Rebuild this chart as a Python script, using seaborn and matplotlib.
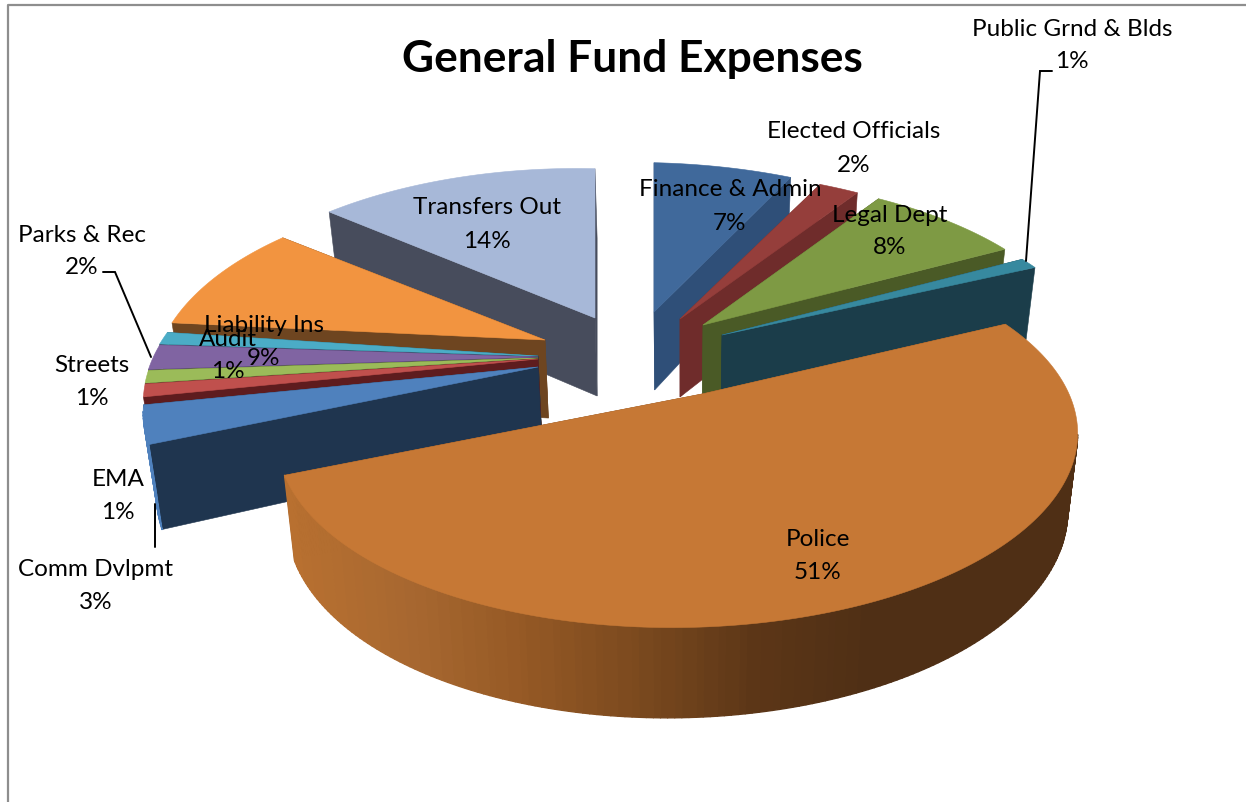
import numpy as np
import matplotlib
matplotlib.use("Agg")
import matplotlib.pyplot as plt
from matplotlib.collections import PolyCollection
from matplotlib.patches import Polygon
import seaborn as sns

# Budget shares, clockwise from twelve o'clock
departments = ["Finance & Admin", "Elected Officials", "Legal Dept", "Public Grnd & Blds",
               "Police", "Comm Dvlpmt", "EMA", "Streets", "Parks & Rec", "Audit",
               "Liability Ins", "Transfers Out"]
shares = [7, 2, 8, 1, 51, 3, 1, 1, 2, 1, 9, 14]
title_text = "General Fund Expenses"

top_colors = ["#40699B", "#953E3B", "#7E9A44", "#37899F", "#C67835", "#4F81BD",
              "#C0504D", "#9BBB59", "#8064A2", "#4BACC6", "#F29440", "#A7B8D8"]
cut_colors = ["#2F4F78", "#6F2C2B", "#4A5A26", "#1B3D4A", "#7A4A20", "#1F354F",
              "#5E1C1E", "#3F4F24", "#3A2A55", "#1E4A55", "#6E4520", "#474C5C"]

# Where each exploded slice has its tip on the canvas, its horizontal squeeze and turn in degrees
slice_tip = {"Finance & Admin": (654, 313, 1.0, 0), "Elected Officials": (680, 320, 1.025, 0),
             "Legal Dept": (703, 326, 1.015, 0), "Public Grnd & Blds": (722, 336, 1.01, 0),
             "Police": (702, 395, 0.99, -1), "Comm Dvlpmt": (538, 368, 0.92, 0),
             "EMA": (538, 360, 0.92, 0), "Streets": (538, 359, 0.92, 0),
             "Parks & Rec": (538, 358, 0.92, 0), "Audit": (538, 357, 0.92, 0),
             "Liability Ins": (545, 341, 0.915, -2), "Transfers Out": (595, 319, 0.96, 0)}
paint_order = ["Transfers Out", "Finance & Admin", "Elected Officials", "Legal Dept",
               "Public Grnd & Blds", "Liability Ins", "Audit", "Parks & Rec", "Streets",
               "EMA", "Comm Dvlpmt", "Police"]

# Label anchor points: (x, name line y, percent line y)
label_at = {"Public Grnd & Blds": (1072, 29, 61), "Elected Officials": (854, 132, 166),
            "Finance & Admin": (730, 190, 223), "Legal Dept": (890, 216, 247),
            "Transfers Out": (487, 208, 241), "Parks & Rec": (82, 236, 268),
            "Liability Ins": (264, 326, 359), "Audit": (228, 340, 372),
            "Streets": (92, 366, 399), "EMA": (118, 480, 513),
            "Comm Dvlpmt": (96, 570, 603), "Police": (818, 540, 573)}
leaders = [[(1052, 72), (1040, 72), (1026, 262)],
           [(103, 273), (115, 273), (151, 358)],
           [(155, 505), (155, 548)]]

# Perspective of the tilted disc
RX, RY, PERSP_Y, PERSP_X = 393.0, 182.0, 0.219, -0.06
DEPTH, DEPTH_POW, BASE_SHRINK, BASE_CX = 78.0, 0.58, 0.025, 680.0


def project(theta_deg, tip):
    th = np.radians(theta_deg + tip[3])
    ux, uy = np.sin(th), -np.cos(th)
    w = 1 - PERSP_Y * uy - PERSP_X * ux
    return tip[0] + tip[2] * RX * ux / w, tip[1] + RY * uy / w, w


def lower(x, y, w):
    return BASE_CX + (x - BASE_CX) * (1 - BASE_SHRINK), y + DEPTH / w ** DEPTH_POW


sns.set_theme(style="white")
fig = plt.figure(figsize=(12.46, 8.03), dpi=100, facecolor="white")
ax = fig.add_axes([0, 0, 1, 1])
ax.set_xlim(0, 1246)
ax.set_ylim(803, 0)
ax.axis("off")

# Outer frame of the chart area, clipped by the page on the right and bottom
ax.plot([8, 8, 1246], [803, 5.5, 5.5], color="#8E8E8E", lw=1.6, solid_capstyle="butt", zorder=1)

wall_ramp = sns.blend_palette(["#B87030", "#A86830", "#955925", "#7A491E", "#5C3617", "#4F2F15", "#4F2F15"], 64)

cumulative = np.concatenate([[0], np.cumsum(shares)]) * 360.0 / sum(shares)
z = 2
for name in paint_order:
    i = departments.index(name)
    tip = slice_tip[name]
    t0, t1 = cumulative[i], cumulative[i + 1]
    thetas = np.linspace(t0, t1, max(int((t1 - t0) * 1.2), 3) + 1)
    rim = [project(t, tip) for t in thetas]
    rim_low = [lower(*p) for p in rim]
    tip_top = (tip[0], tip[1])
    tip_low = lower(tip[0], tip[1], 1.0)

    # Two cut faces running from the tip out to the rim
    for end, end_low in ((rim[0], rim_low[0]), (rim[-1], rim_low[-1])):
        ax.add_patch(Polygon([tip_top, end[:2], end_low, tip_low], closed=True,
                             fc=cut_colors[i], ec=cut_colors[i], lw=0.4, zorder=z))
    z += 1

    # Curved outer wall: only the stretch turned toward the viewer, shaded across the large slice
    quads, shades = [], []
    for a, b, a_low, b_low in zip(rim[:-1], rim[1:], rim_low[:-1], rim_low[1:]):
        if b[0] >= a[0]:
            continue
        quads.append([a[:2], b[:2], b_low, a_low])
        if name == "Police":
            pos = np.clip(((a[0] + b[0]) / 2 - 283) / 700, 0, 1)
            shades.append(wall_ramp[int(pos * 63)])
        else:
            shades.append(top_colors[i])
    if quads:
        ax.add_collection(PolyCollection(quads, facecolors=shades, edgecolors=shades,
                                         linewidths=1.0, zorder=z))
    z += 1

    # Upper face
    ax.add_patch(Polygon([tip_top] + [p[:2] for p in rim], closed=True,
                         fc=top_colors[i], ec=top_colors[i], lw=0.4, zorder=z))
    z += 1

for pts in leaders:
    xs, ys = zip(*pts)
    ax.plot(xs, ys, color="black", lw=1.4, solid_joinstyle="miter", zorder=z)
z += 1

ax.text(632, 59, title_text, fontsize=31.9, fontweight="bold", family="Lato",
        ha="center", va="center", color="black", zorder=z)
for name, share in zip(departments, shares):
    x, y1, y2 = label_at[name]
    ax.text(x, y1, name, fontsize=17.5, family="Lato", ha="center", va="center", color="black", zorder=z)
    ax.text(x, y2, f"{share}%", fontsize=17.5, family="Lato", ha="center", va="center", color="black", zorder=z)

fig.savefig("out.png", dpi=100, facecolor="white")
